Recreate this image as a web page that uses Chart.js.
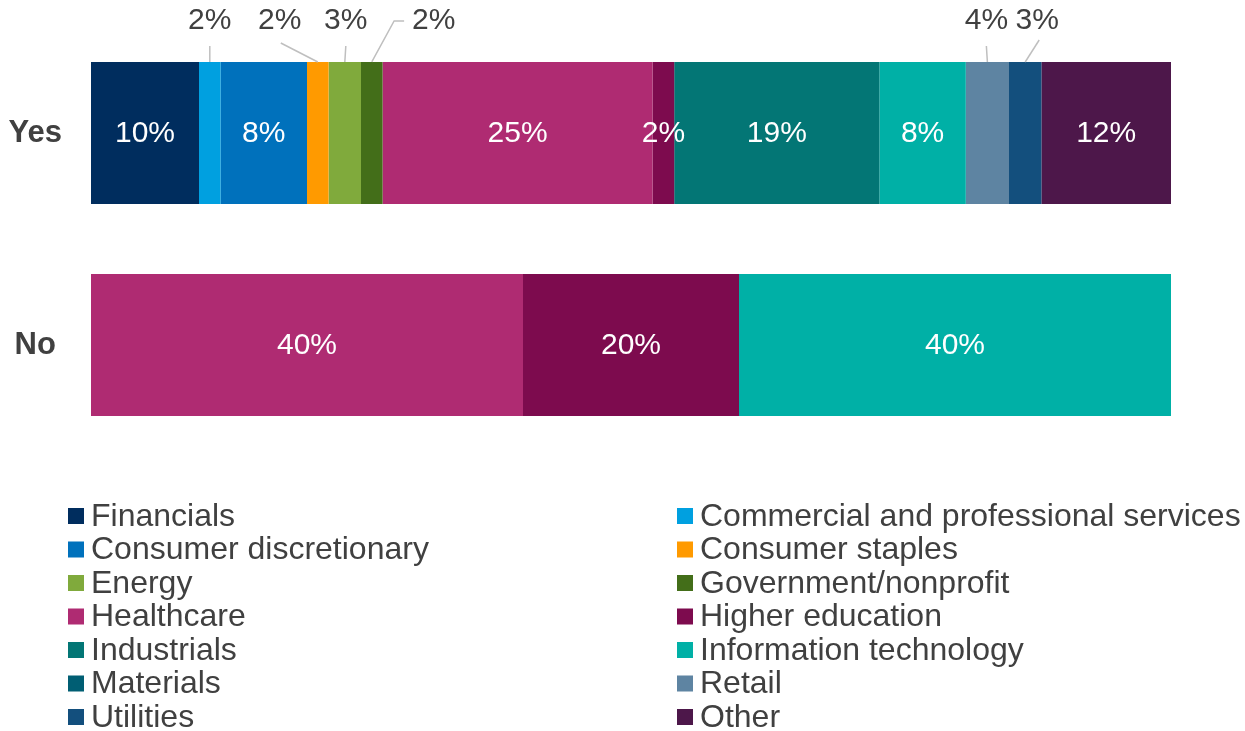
<!DOCTYPE html>
<html>
<head>
<meta charset="utf-8">
<title>Sector breakdown</title>
<script src="https://cdn.jsdelivr.net/npm/chart.js@4"></script>
<style>
  html, body { margin: 0; padding: 0; background: #fff; }
  #wrap { width: 1245px; height: 731px; position: relative; }
</style>
</head>
<body>
<div id="wrap"><canvas id="sectorChart"></canvas></div>
<script>
// Categories (rows) and sectors (stacked segments)
const rows = ['Yes', 'No'];
const sectors = [
    'Financials', 'Commercial and professional services', 'Consumer discretionary',
    'Consumer staples', 'Energy', 'Government/nonprofit', 'Healthcare',
    'Higher education', 'Industrials', 'Information technology', 'Materials',
    'Retail', 'Utilities', 'Other'
];
// Percent share per sector, one entry per row: [Yes, No]
const financials    = [10, 0];
const commercial    = [2, 0];
const consumerDisc  = [8, 0];
const consumerStap  = [2, 0];
const energy        = [3, 0];
const government    = [2, 0];
const healthcare    = [25, 40];
const higherEd      = [2, 20];
const industrials   = [19, 0];
const infoTech      = [8, 40];
const materials     = [0, 0];
const retail        = [4, 0];
const utilities     = [3, 0];
const other         = [12, 0];
const seriesValues = [financials, commercial, consumerDisc, consumerStap, energy, government,
    healthcare, higherEd, industrials, infoTech, materials, retail, utilities, other];

const colors = ['#002D5E', '#00A0E0', '#0071BC', '#FF9A00', '#80AA3C', '#436E19',
    '#AF2B72', '#7D0B4E', '#037675', '#00B0A6', '#005E73', '#5E84A2', '#134F7D', '#4D174A'];

const FONT = '"Liberation Sans", Arial, sans-serif';
const TEXT = '#404040';

// Small segments on the first row get their label above the bar with a leader line.
// dx: label offset from segment centre, elbow: horizontal run at label height
const callouts = {
    'Commercial and professional services': { dx: 0 },
    'Consumer staples': { dx: -38, fromX: 1, lineTop: 43 },
    'Energy': { dx: 1 },
    'Government/nonprofit': { dx: 62, elbow: true },
    'Retail': { dx: -1 },
    'Utilities': { dx: 12, fromX: 2, lineTop: 40 }
};

const segmentLabels = {
    id: 'segmentLabels',
    afterDatasetsDraw(chart) {
        const ctx = chart.ctx;
        ctx.save();
        ctx.font = '30px ' + FONT;
        ctx.textBaseline = 'middle';
        ctx.textAlign = 'center';
        chart.data.datasets.forEach((ds, di) => {
            const meta = chart.getDatasetMeta(di);
            meta.data.forEach((bar, i) => {
                const v = ds.data[i];
                if (!v) return;
                const p = bar.getProps(['x', 'base', 'y', 'height'], true);
                const cx = (p.x + p.base) / 2;
                const top = p.y - p.height / 2;
                const c = i === 0 ? callouts[ds.label] : null;
                const txt = v + '%';
                if (!c) {
                    ctx.fillStyle = '#fff';
                    ctx.fillText(txt, cx, p.y + 1);
                    return;
                }
                const lx = cx + c.dx;
                const ly = 21;
                ctx.fillStyle = TEXT;
                ctx.fillText(txt, lx, ly);
                ctx.strokeStyle = '#BFBFBF';
                ctx.lineWidth = 1.5;
                ctx.beginPath();
                if (c.elbow) {
                    const w = ctx.measureText(txt).width;
                    ctx.moveTo(lx - w / 2 - 8, ly);
                    ctx.lineTo(lx - w / 2 - 18, ly);
                    ctx.lineTo(cx, top);
                } else {
                    ctx.moveTo(lx + (c.fromX || 0), c.lineTop || 46);
                    ctx.lineTo(cx, top);
                }
                ctx.stroke();
            });
        });
        ctx.restore();
    }
};

// Two-column legend under the plot, filled row by row
const columnLegend = {
    id: 'columnLegend',
    afterDraw(chart) {
        const ctx = chart.ctx;
        const colX = [68, 677];
        const y0 = 516, step = 33.5, box = 16;
        ctx.save();
        ctx.font = '32px ' + FONT;
        ctx.textBaseline = 'middle';
        ctx.textAlign = 'left';
        chart.data.datasets.forEach((ds, i) => {
            const x = colX[i % 2];
            const y = y0 + Math.floor(i / 2) * step;
            ctx.fillStyle = ds.backgroundColor;
            ctx.fillRect(x, y - box / 2, box, box);
            ctx.fillStyle = TEXT;
            ctx.fillText(ds.label, x + box + 7, y + 1);
        });
        ctx.restore();
    }
};

new Chart(document.getElementById('sectorChart'), {
    type: 'bar',
    data: {
        labels: rows,
        datasets: sectors.map((name, i) => ({
            label: name,
            data: seriesValues[i],
            backgroundColor: colors[i],
            borderWidth: 0,
            categoryPercentage: 0.67,
            barPercentage: 1
        }))
    },
    options: {
        indexAxis: 'y',
        responsive: true,
        maintainAspectRatio: false,
        animation: false,
        layout: { padding: { top: 27, right: 74, bottom: 280, left: 0 } },
        scales: {
            x: { stacked: true, min: 0, max: 100, display: false },
            y: {
                stacked: true,
                border: { display: false },
                grid: { display: false, drawTicks: false },
                ticks: {
                    crossAlign: 'center',
                    padding: 29,
                    color: TEXT,
                    font: { family: FONT, size: 31, weight: 'bold' }
                },
                afterFit(scale) {
                    // labels sit mid-band, so no extra room is needed above/below
                    scale.width = 91;
                    scale.paddingTop = 0;
                    scale.paddingBottom = 0;
                }
            }
        },
        plugins: {
            legend: { display: false },
            tooltip: { enabled: false }
        }
    },
    plugins: [segmentLabels, columnLegend]
});
</script>
</body>
</html>
